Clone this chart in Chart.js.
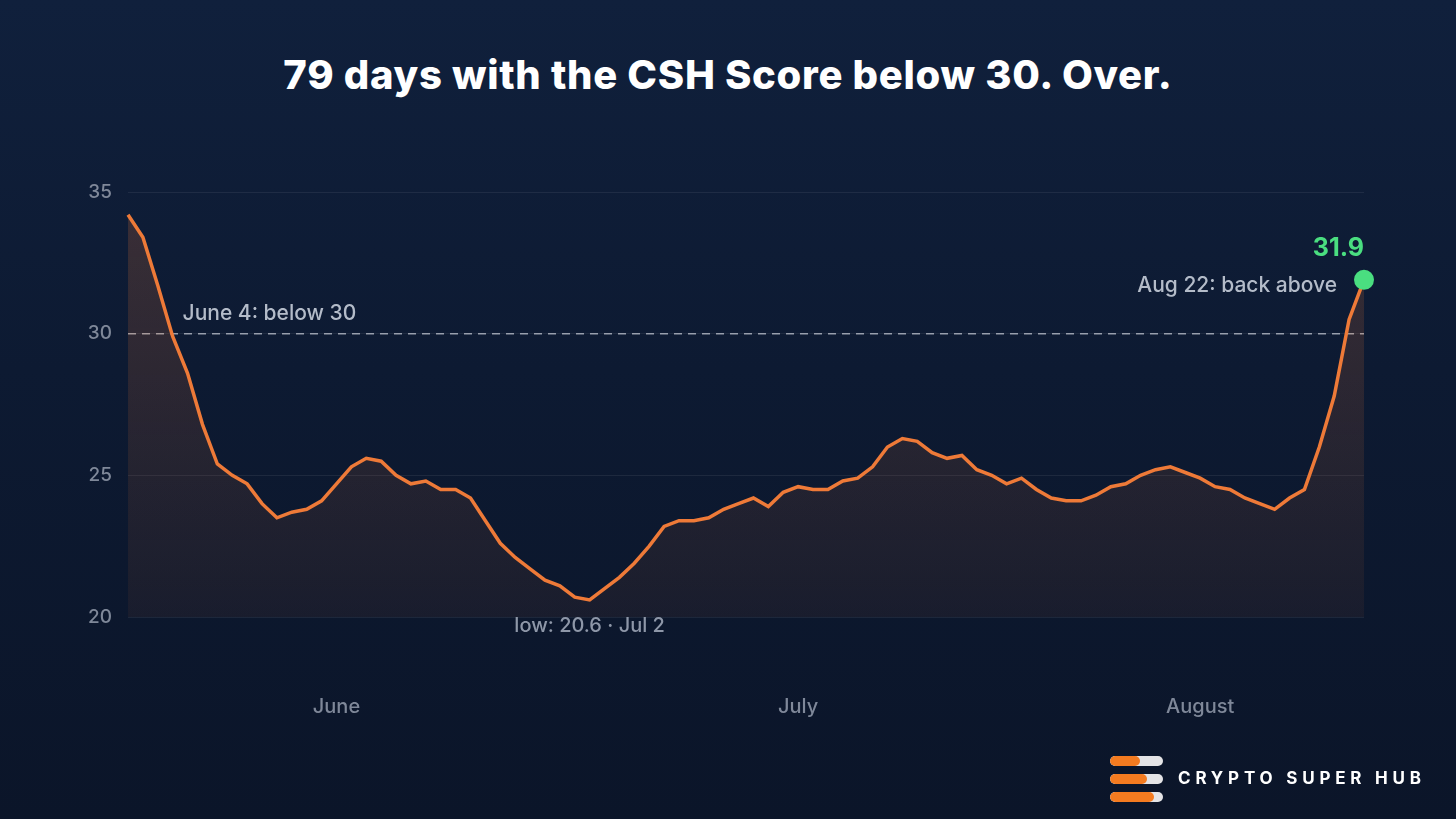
<!DOCTYPE html>
<html>
<head>
<meta charset="utf-8">
<script src="https://cdn.jsdelivr.net/npm/chart.js@4.4.1/dist/chart.umd.min.js"></script>
<style>
  html, body {
    margin: 0;
    padding: 0;
    width: 1456px;
    height: 819px;
    overflow: hidden;
    font-family: "Inter", "Roboto", sans-serif;
  }
  body {
    background: linear-gradient(180deg, #10203c 0%, #0d1a32 45%, #0b1529 100%);
    position: relative;
  }
  #titulo {
    position: absolute;
    top: 50px;
    left: 0;
    width: 1456px;
    text-align: center;
    color: #ffffff;
    font-size: 40px;
    font-weight: 800;
    letter-spacing: 0.7px;
  }
  #chartBox {
    position: absolute;
    left: 0;
    top: 0;
    width: 1456px;
    height: 819px;
  }
  #logo {
    position: absolute;
    left: 1110px;
    top: 756px;
  }
  .barra {
    position: relative;
    width: 53px;
    height: 10px;
    border-radius: 5px;
    background: #e4e4e6;
    overflow: hidden;
    margin-bottom: 8px;
  }
  .barra span {
    position: absolute;
    left: 0;
    top: 0;
    height: 10px;
    background: #f47b20;
    border-radius: 5px;
  }
  #logoTxt {
    position: absolute;
    left: 1178px;
    top: 768px;
    color: #ffffff;
    font-size: 17px;
    font-weight: 700;
    letter-spacing: 4.8px;
  }
</style>
</head>
<body>
<div id="titulo">79 days with the CSH Score below 30. Over.</div>
<div id="chartBox"><canvas id="myChart1"></canvas></div>
<div id="logo">
  <div class="barra"><span style="width:30px"></span></div>
  <div class="barra"><span style="width:37px"></span></div>
  <div class="barra"><span style="width:44px"></span></div>
</div>
<div id="logoTxt">CRYPTO SUPER HUB</div>

<script>
// Datos del grafico
const startDay = [5, 31]; // 31 de mayo
const monthShort = ["Jan", "Feb", "Mar", "Apr", "May", "Jun", "Jul", "Aug", "Sep"];
const monthDays = [31, 28, 31, 30, 31, 30, 31, 31, 30];

const scores = [
  34.2, 33.4, 31.7, 29.9, 28.6, 26.8, 25.4, 25.0, 24.7, 24.0,
  23.5, 23.7, 23.8, 24.1, 24.7, 25.3, 25.6, 25.5, 25.0, 24.7,
  24.8, 24.5, 24.5, 24.2, 23.4, 22.6, 22.1, 21.7, 21.3, 21.1,
  20.7, 20.6, 21.0, 21.4, 21.9, 22.5, 23.2, 23.4, 23.4, 23.5,
  23.8, 24.0, 24.2, 23.9, 24.4, 24.6, 24.5, 24.5, 24.8, 24.9,
  25.3, 26.0, 26.3, 26.2, 25.8, 25.6, 25.7, 25.2, 25.0, 24.7,
  24.9, 24.5, 24.2, 24.1, 24.1, 24.3, 24.6, 24.7, 25.0, 25.2,
  25.3, 25.1, 24.9, 24.6, 24.5, 24.2, 24.0, 23.8, 24.2, 24.5,
  26.0, 27.8, 30.5, 31.9
];

// Etiquetas del eje X
const monthTickDays = ["Jun 14", "Jul 15", "Aug 11"];
const monthTickLabels = ["June", "July", "August"];
const yTicks = [20, 25, 30, 35];

const threshold = 30;
const lowLabel = "low: 20.6 · Jul 2";
const crossLabel = "June 4: below 30";
const backLabel = "Aug 22: back above";

// Fechas por dia
const labels = [];
let m = startDay[0] - 1;
let d = startDay[1];
for (let i = 0; i < scores.length; i++) {
  labels.push(monthShort[m] + " " + d);
  d++;
  if (d > monthDays[m]) {
    d = 1;
    m++;
  }
}

const lastIdx = scores.length - 1;
const lowIdx = scores.indexOf(Math.min(...scores));
const crossIdx = 4;

// Plugin para linea de 30 y textos
const anotaciones = {
  id: "anotaciones",
  beforeDatasetsDraw(chart) {
    const { ctx, chartArea, scales } = chart;
    const y = scales.y.getPixelForValue(threshold);
    ctx.save();
    ctx.strokeStyle = "rgba(205, 210, 220, 0.7)";
    ctx.lineWidth = 1.5;
    ctx.setLineDash([8, 6]);
    ctx.beginPath();
    ctx.moveTo(chartArea.left, y);
    ctx.lineTo(chartArea.right, y);
    ctx.stroke();
    ctx.restore();
  },
  afterDatasetsDraw(chart) {
    const { ctx, scales } = chart;
    const x = scales.x;
    const y = scales.y;
    ctx.save();
    ctx.textBaseline = "middle";

    // June 4: below 30
    ctx.font = "500 21px Inter";
    ctx.fillStyle = "#b4bcc9";
    ctx.textAlign = "left";
    ctx.fillText(crossLabel, x.getPixelForValue(crossIdx) - 5, y.getPixelForValue(threshold) - 20);

    // back above
    const px = x.getPixelForValue(lastIdx);
    const py = y.getPixelForValue(scores[lastIdx]);
    ctx.textAlign = "right";
    ctx.fillText(backLabel, px - 27, py + 6);

    // low
    ctx.font = "500 20px Inter";
    ctx.fillStyle = "#8e97a8";
    ctx.textAlign = "center";
    ctx.fillText(lowLabel, x.getPixelForValue(lowIdx), y.getPixelForValue(scores[lowIdx]) + 26);

    // valor final
    ctx.font = "700 25px Inter";
    ctx.fillStyle = "#4ade80";
    ctx.textAlign = "right";
    ctx.fillText(scores[lastIdx].toFixed(1), px, py - 31);
    ctx.restore();
  },
};

const ctx = document.getElementById("myChart1");

window.myChart1 = new Chart(ctx, {
  type: "line",
  data: {
    labels: labels,
    datasets: [
      {
        label: "CSH Score",
        data: scores,
        borderColor: "#ee7a38",
        borderWidth: 3.5,
        tension: 0,
        fill: "start",
        backgroundColor: (c) => {
          const area = c.chart.chartArea;
          if (!area) return "rgba(239,123,56,0.1)";
          const g = c.chart.ctx.createLinearGradient(0, area.top, 0, area.bottom);
          g.addColorStop(0, "rgba(239,123,56,0.20)");
          g.addColorStop(1, "rgba(239,123,56,0.06)");
          return g;
        },
        pointRadius: (c) => (c.dataIndex === lastIdx ? 10 : 0),
        pointHoverRadius: 0,
        pointBackgroundColor: "#4ade80",
        pointBorderWidth: 0,
      },
    ],
  },
  options: {
    responsive: true,
    maintainAspectRatio: false, // ocupa todo el contenedor
    animation: false,
    layout: {
      padding: { left: 0, right: 92, top: 192, bottom: 0 },
    },
    plugins: {
      legend: { display: false },
      tooltip: { enabled: false },
    },
    scales: {
      x: {
        grid: { display: false, drawTicks: false },
        border: { display: false },
        afterFit: (s) => {
          s.height = 202;
        },
        ticks: {
          autoSkip: false,
          maxRotation: 0,
          padding: 78,
          color: "#7f8899",
          font: { family: "Inter", size: 20, weight: "500" },
          callback: function (val) {
            const k = monthTickDays.indexOf(this.getLabelForValue(val));
            return k >= 0 ? monthTickLabels[k] : "";
          },
        },
      },
      y: {
        min: yTicks[0],
        max: yTicks[yTicks.length - 1],
        grid: { color: "rgba(255,255,255,0.07)", drawTicks: false },
        border: { display: false },
        afterFit: (s) => {
          s.width = 128;
        },
        afterBuildTicks: (s) => {
          s.ticks = yTicks.map((v) => ({ value: v }));
        },
        ticks: {
          padding: 16,
          color: "#7f8899",
          font: { family: "Inter", size: 19, weight: "500" },
        },
      },
    },
  },
  plugins: [anotaciones],
});
</script>
</body>
</html>
